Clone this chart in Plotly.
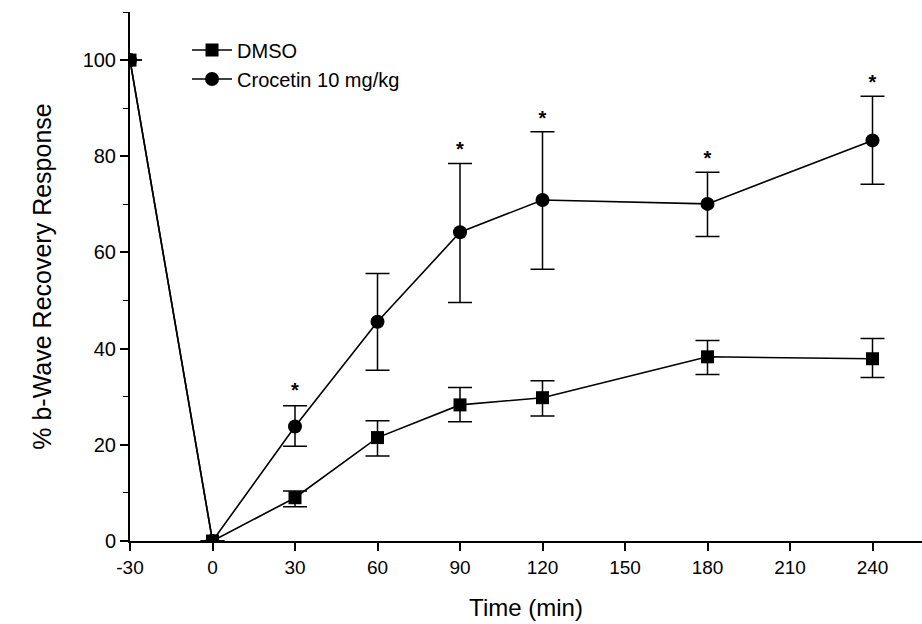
import plotly.graph_objects as go

time = [-30, 0, 30, 60, 90, 120, 180, 240]

dmso = [100, 0, 9.0, 21.5, 28.3, 29.8, 38.3, 37.9]
dmso_err_plus = [0, 0, 1.4, 3.5, 3.6, 3.5, 3.4, 4.2]
dmso_err_minus = [0, 0, 1.9, 3.8, 3.5, 3.8, 3.7, 3.9]

croc = [100, 0, 23.8, 45.6, 64.2, 70.9, 70.1, 83.3]
croc_err_plus = [0, 0, 4.3, 10.0, 14.3, 14.2, 6.6, 9.2]
croc_err_minus = [0, 0, 4.1, 10.1, 14.6, 14.4, 6.8, 9.1]

star_time = [30, 90, 120, 180, 240]
star_y = [31.0, 81.0, 87.5, 79.3, 95.0]

x_tickvals = [-30, 0, 30, 60, 90, 120, 150, 180, 210, 240]
x_ticktext = ["-30", "0", "30", "60", "90", "120", "150", "180", "210", "240"]
y_tickvals = [0, 20, 40, 60, 80, 100]

font = "Liberation Sans, Arial, sans-serif"

fig = go.Figure()

fig.add_trace(go.Scatter(
    x=time, y=croc, name="Crocetin 10 mg/kg", mode="lines+markers",
    line=dict(color="black", width=1.6),
    marker=dict(symbol="circle", size=14, color="black"),
    error_y=dict(type="data", symmetric=False, array=croc_err_plus,
                 arrayminus=croc_err_minus, color="black", thickness=1.5, width=12),
    cliponaxis=True,
))
fig.add_trace(go.Scatter(
    x=time, y=dmso, name="DMSO", mode="lines+markers",
    line=dict(color="black", width=1.6),
    marker=dict(symbol="square", size=13, color="black"),
    error_y=dict(type="data", symmetric=False, array=dmso_err_plus,
                 arrayminus=dmso_err_minus, color="black", thickness=1.5, width=12),
    cliponaxis=True,
))
fig.add_trace(go.Scatter(
    x=star_time, y=star_y, mode="text", text=["<b>*</b>"] * len(star_time),
    textfont=dict(family=font, size=20, color="black"),
    showlegend=False, hoverinfo="skip", cliponaxis=False,
))

fig.update_layout(
    width=922, height=624,
    margin=dict(l=130, r=0, t=12, b=83),
    plot_bgcolor="white", paper_bgcolor="white",
    font=dict(family=font, size=19, color="black"),
    showlegend=True,
    legend=dict(x=0.072, y=0.965, xanchor="left", yanchor="top",
                bgcolor="rgba(0,0,0,0)", traceorder="reversed",
                font=dict(family=font, size=20), itemwidth=40,
                tracegroupgap=0),
    xaxis=dict(
        range=[-30, 258], tickvals=x_tickvals, ticktext=x_ticktext,
        showline=True, linecolor="black", linewidth=2,
        ticks="outside", ticklen=8, tickwidth=1.5, tickcolor="black",
        showgrid=False, zeroline=False, automargin=False,
        title=dict(text="Time (min)", font=dict(family=font, size=24), standoff=22),
        tickfont=dict(family=font, size=19),
    ),
    yaxis=dict(
        range=[0, 110], tickvals=y_tickvals,
        showline=True, linecolor="black", linewidth=2,
        ticks="outside", ticklen=8, tickwidth=1.5, tickcolor="black",
        minor=dict(dtick=10, ticks="outside", ticklen=5, tickwidth=1.2, tickcolor="black"),
        showgrid=False, zeroline=False, automargin=False,
        title=dict(text="% b-Wave Recovery Response", font=dict(family=font, size=25), standoff=24),
        tickfont=dict(family=font, size=20),
    ),
)

fig.write_html("out.html", config={"displayModeBar": False},
               post_script="document.body.style.margin='0';")
